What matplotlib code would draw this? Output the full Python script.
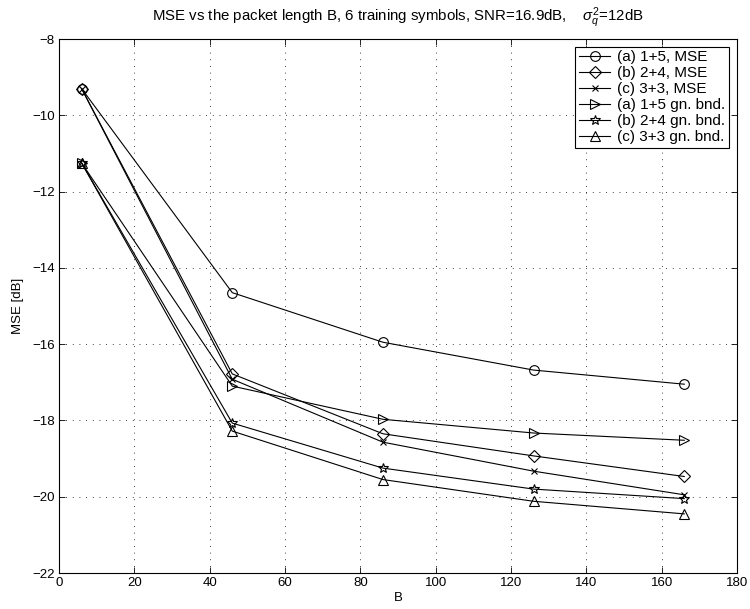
import numpy as np
import matplotlib
matplotlib.use("Agg")
import matplotlib.pyplot as plt

plt.rcParams['font.family'] = ['Liberation Sans', 'DejaVu Sans']
plt.rcParams['font.size'] = 9.5
plt.rcParams['mathtext.fontset'] = 'custom'
plt.rcParams['mathtext.rm'] = 'Liberation Sans'
plt.rcParams['mathtext.it'] = 'Liberation Sans:italic'

###	data	###
B = [6, 46, 86, 126, 166]

mse_a = [-9.3, -14.65, -15.95, -16.68, -17.05]
mse_b = [-9.3, -16.78, -18.35, -18.93, -19.47]
mse_c = [-9.3, -16.92, -18.57, -19.33, -19.95]
bnd_a = [-11.25, -17.1, -17.97, -18.33, -18.52]
bnd_b = [-11.25, -18.07, -19.25, -19.80, -20.05]
bnd_c = [-11.25, -18.28, -19.55, -20.12, -20.45]

labels = ['(a) 1+5, MSE', '(b) 2+4, MSE', '(c) 3+3, MSE',
          '(a) 1+5 gn. bnd.', '(b) 2+4 gn. bnd.', '(c) 3+3 gn. bnd.']
markers = ['o', 'D', 'x', '>', '*', '^']
sizes = [7, 6, 5, 7, 7, 7]

fig = plt.figure(figsize=(7.5, 6.09), dpi=100)
ax = fig.add_axes([59/750., 1 - 573/609., (737 - 59)/750., (573 - 39)/609.])

series = [mse_a, mse_b, mse_c, bnd_a, bnd_b, bnd_c]
for y, m, s, lab in zip(series, markers, sizes, labels):
	ax.plot(B, y, color='k', linewidth=0.8, marker=m, markersize=s,
		markerfacecolor='none', markeredgecolor='k', markeredgewidth=0.8, label=lab)

ax.set_xlim(0, 180)
ax.set_ylim(-22, -8)
ax.set_xticks(np.arange(0, 181, 20))
ax.set_yticks(np.arange(-22, -7, 2))
ax.tick_params(direction='in', top=True, right=True, length=4, width=0.6, pad=3)
ax.grid(True, color='k', linestyle=(0, (1, 7)), linewidth=0.6)
for sp in ax.spines.values():
	sp.set_linewidth(0.8)

ax.set_xlabel('B', labelpad=2)
ax.set_ylabel('MSE [dB]', labelpad=6)
ax.set_title(r'MSE vs the packet length B, 6 training symbols, SNR=16.9dB,    $\sigma_q^2$=12dB',
	pad=13, fontsize=10.8)

leg = ax.legend(loc='upper right', fancybox=False, framealpha=1, edgecolor='k', fontsize=11,
	handlelength=2.0, borderaxespad=0.5, labelspacing=0.13, borderpad=0.25, handletextpad=0.5)
leg.get_frame().set_linewidth(0.8)

fig.savefig('out.png', dpi=100)
